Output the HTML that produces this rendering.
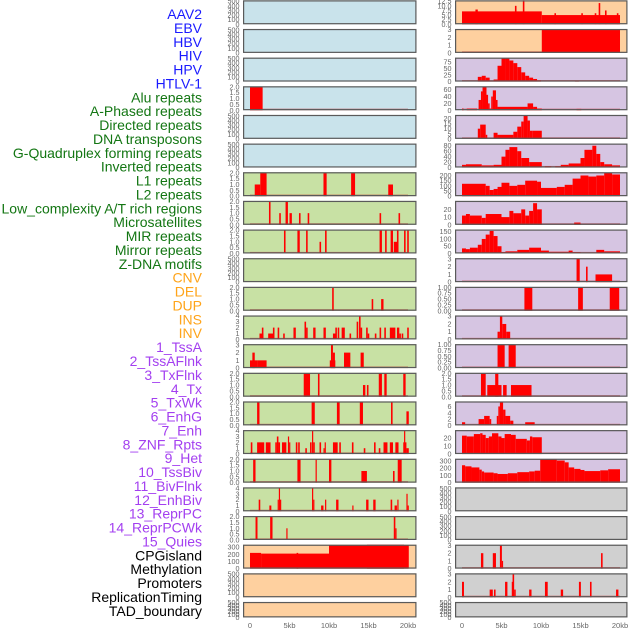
<!DOCTYPE html>
<html><head><meta charset="utf-8"><style>
html,body{margin:0;padding:0;background:#fff;width:630px;height:630px;overflow:hidden}
svg{display:block;font-family:"Liberation Sans",sans-serif}
</style></head><body>
<svg id="chart" width="630" height="630" viewBox="0 0 630 630"></svg>
<script>
// ---------- data ----------
const labels = ["AAV2","EBV","HBV","HIV","HPV","HTLV-1","Alu repeats","A-Phased repeats","Directed repeats","DNA transposons","G-Quadruplex forming repeats","Inverted repeats","L1 repeats","L2 repeats","Low_complexity A/T rich regions","Microsatellites","MIR repeats","Mirror repeats","Z-DNA motifs","CNV","DEL","DUP","INS","INV","1_TssA","2_TssAFlnk","3_TxFlnk","4_Tx","5_TxWk","6_EnhG","7_Enh","8_ZNF_Rpts","9_Het","10_TssBiv","11_BivFlnk","12_EnhBiv","13_ReprPC","14_ReprPCWk","15_Quies","CPGisland","Methylation","Promoters","ReplicationTiming","TAD_boundary"];
const labelGroups = ["v","v","v","v","v","v","r","r","r","r","r","r","r","r","r","r","r","r","r","c","c","c","c","c","h","h","h","h","h","h","h","h","h","h","h","h","h","h","h","o","o","o","o","o"];
const leftBg  = ["b","b","b","b","b","b","g","g","g","g","g","g","g","g","g","g","g","g","g","p","p","p"];
const rightBg = ["p","p","l","l","l","l","l","l","l","l","l","l","l","l","l","l","l","y","y","y","y","y"];
const T500=[0,100,200,300,400,500], T2=[0,0.5,1,1.5,2], T3=[0,1,2,3], T4=[0,1,2,3,4], T1=[0,0.25,0.5,0.75,1];
const leftTicks  = [T500,T500,T500,T2,T500,T500,T2,T2,T2,T500,T2,T4,T3,T2,T2,T4,T2,T4,T2,[0,100,200,300],T500,T500];
const leftMax    = [520,520,520,2.05,520,520,2.05,2.05,2.05,520,2.05,4.05,3.1,2.05,2.05,4.1,2.05,4.1,2.05,335,520,520];
const rightTicks = [[0,2.5,5,7.5,10,12.5],T3,[0,25,50,75],[0,20,40,60],[0,5,10,15,20],[0,20,40,60,80],[0,50,100,150,200],[0,10,20],[0,50,100,150],T3,T1,T3,T1,T2,[0,2,4,6],[0,10,20],[0,100,200,300],T500,T500,T3,T3,T500];
const rightMax   = [13,3.1,91,70,23.5,88,232,31,165,3.1,1.02,3.1,1.02,2.05,7.6,30,330,520,520,3.1,3.1,520];

const L_alu=[[0,1.6,2]];
const L_l1=[[0.6,1.3,1],[1.3,2.1,2],[9.3,9.7,2],[12.8,13.3,2],[17.5,18.1,1]];
const L_low=[[2.4,2.6,2],[3.7,3.9,1],[4.5,4.8,2],[5.0,5.3,1],[6.2,6.4,1],[7.3,7.5,1],[16.4,16.6,1],[18.8,19.0,1]];
const L_mir=[[4.3,4.5,2],[6.0,6.3,2],[7.1,7.3,2],[8.8,9.0,1],[9.5,9.7,2],[16.4,16.7,2],[17.1,17.3,2],[17.8,18.1,2],[18.2,18.7,1],[18.6,18.8,2],[19.5,19.7,2],[19.9,20.1,2]];
const L_del=[[10.4,10.6,2],[15.4,15.6,1],[16.6,16.9,1]];
const L_ins=[[1.2,1.7,1],[1.5,1.7,2],[2.3,3.0,1],[2.9,3.1,2],[3.5,3.7,2],[4.2,4.4,1],[5.5,5.8,2],[6.9,7.1,3],[7.1,7.3,2],[8.0,8.3,2],[9.3,9.6,2],[10.5,10.9,1],[10.8,11.0,2],[11.1,11.3,2],[11.6,12.0,2],[12.6,12.8,1],[13.5,13.7,3],[13.8,14.0,4],[14.0,14.2,2],[14.7,14.9,2],[14.9,15.1,1],[15.8,16.0,1],[16.4,16.6,2],[17.0,17.2,2],[17.7,18.4,2],[18.6,18.9,2],[18.9,19.1,1],[19.2,19.4,1],[19.9,20.1,2]];
const L_tss=[[0,1.0,1],[0.3,0.6,2],[1.0,2.1,1],[10.1,10.8,1],[10.25,10.5,3],[10.5,10.75,2],[11.9,12.7,2],[14.0,14.4,2]];
const L_txf=[[6.8,7.6,2],[8.6,8.8,2],[14.3,14.6,1],[14.8,15.0,1],[16.3,16.7,2],[17.0,17.3,2],[19.4,19.7,2]];
const L_txwk=[[0.9,1.2,2],[7.8,8.2,2],[11.0,11.35,2],[13.9,14.3,2],[17.85,18.05,2],[19.8,20.1,1.2]];
const L_enh=[[0.1,0.3,2],[0.9,1.8,2],[2.0,2.6,2],[3.2,3.4,2],[3.4,3.6,3],[3.6,3.8,2],[4.05,4.6,2],[4.8,4.95,3],[4.95,5.1,2],[5.8,6.0,2],[6.1,6.3,2],[7.0,7.2,1],[7.6,7.8,2],[7.85,8.0,4],[8.0,8.2,2],[8.8,9.0,2],[9.3,9.45,1],[9.45,9.6,2],[10.5,11.1,2],[11.3,11.5,2],[12.9,13.1,2],[14.4,14.6,1],[15.7,15.9,2],[16.3,16.5,1],[16.9,17.4,2],[17.7,18.1,2],[18.4,18.8,2],[19.4,19.5,2],[19.5,19.6,4],[19.6,19.8,2],[19.8,20.1,1]];
const L_het=[[0.4,0.7,2],[6.0,6.4,2],[8.3,8.45,2],[10.0,10.3,2],[14.1,14.8,1],[18.1,18.3,1],[18.7,19.2,2]];
const L_biv=[[1.1,1.3,2],[2.45,2.7,1],[3.5,3.65,2],[3.65,3.8,4],[3.8,3.9,2],[7.85,8.0,4],[8.0,8.1,2],[9.0,9.3,1],[9.5,9.65,2],[10.9,11.2,2],[12.95,13.1,1],[14.7,15.0,2],[15.6,15.9,2],[17.8,18.0,2],[18.3,18.6,1],[18.65,18.8,2],[19.8,19.95,3],[19.95,20.1,1]];
const L_repr=[[0.7,0.95,2],[2.55,2.85,2],[4.6,4.75,1],[18.2,18.4,2],[18.4,18.5,1]];
const L_cpg=[[0,1.4,220],[1.4,10.0,210],[5.9,6.1,220],[10.0,20.1,330],[14.8,19.5,335]];
const leftData=[[],[],[],L_alu,[],[],L_l1,L_low,L_mir,[],L_del,L_ins,L_tss,L_txf,L_txwk,L_enh,L_het,L_biv,L_repr,L_cpg,[],[]];

const R_aav=[[0,10.1,7],[1.7,2.0,8],[6.7,6.9,10],[7.7,7.9,13],[10.1,20,5],[11.7,11.9,6],[15.1,15.3,6],[16.8,17.0,6],[17.3,17.5,11.5],[18.1,18.3,7.5],[19.6,19.8,6]];
const R_hbv=[[0,10.1,0.08],[10.1,20,3]];
const R_hpv=[[2,2.5,18],[2.5,3,22],[3,3.5,15],[3.5,4,4],[4,4.5,8],[4.5,5,60],[5,5.5,88],[5.5,6,88],[6,6.5,80],[6.5,7,70],[7,7.5,55],[7.5,8,35],[8,8.5,22],[8.5,9,15],[9,9.5,10],[9.5,10,5],[14.3,14.8,4]];
const R_aph=[[0,0.2,5],[0.6,1.9,5],[2.1,2.4,30],[2.4,2.6,55],[2.6,3.1,68],[3.1,3.3,45],[3.3,3.5,20],[3.5,3.7,5],[3.7,3.9,40],[3.9,4.3,58],[4.3,4.5,30],[4.5,8.3,10],[8.3,9.0,20],[9.0,9.5,10],[9.5,10.1,5],[14.5,15.1,4]];
const R_dna=[[2,2.3,10],[2.3,3,14],[3,3.2,4],[4,4.5,6],[4.5,6.5,4],[6.5,7,7],[7,7.5,12],[7.5,7.8,17],[7.8,8.3,23],[8.3,8.6,18],[8.6,8.9,8],[8.9,10.1,8]];
const R_inv=[[0,0.5,10],[0.5,2.5,12],[2.5,4,8],[4,5,10],[5,5.5,40],[5.5,6,65],[6,7,75],[7,7.5,60],[7.5,8.5,35],[8.5,10.1,20],[10.5,11.3,5],[11.8,12.5,5],[12.5,13.5,10],[13.5,15,15],[15,15.5,35],[15.5,16.5,65],[16.5,17,80],[17,17.5,50],[17.5,18,20],[18,19,12],[19,20,8]];
const R_l2=[[0,3,120],[3,3.5,100],[3.5,4,60],[4,4.5,70],[4.5,5,90],[5,6,130],[6,7,100],[7,8,110],[8,9.5,150],[9.5,10,140],[10,12,80],[12,13,90],[13,14,110],[14,15,170],[15,16,200],[16,17,190],[17,18,200],[18,19,225],[19,20,210]];
const R_mic=[[0,0.5,12],[0.5,1,14],[1,2.5,12],[2.5,3,9],[3,5,14],[5,6,10],[6,6.5,18],[6.5,7.5,15],[7.5,8,20],[8,8.5,12],[8.5,9,18],[9,9.5,28],[9.5,10.1,20],[14.2,15,3]];
const R_mirr=[[0,0.5,35],[0.5,1,30],[1,2,40],[2,2.5,60],[2.5,3,100],[3,3.5,130],[3.5,4,155],[4,4.5,120],[4.5,5,50],[5,5.5,10],[5.5,7,15],[7,8.5,25],[8.5,10,40],[10,11,20],[11,13.5,12],[13.5,14,20],[14,15,10],[15,17,5],[17,18,25],[18,20,15]];
const R_cnv=[[14.5,14.9,3],[15.7,15.9,2],[16.9,19.0,1]];
const R_dup=[[7.9,8.9,1],[14.7,15.3,1],[18.7,19.9,1]];
const R_inv2=[[4.5,4.8,1],[4.8,5.1,3],[5.1,5.6,2],[5.6,6.1,1]];
const R_tssf=[[4.5,5.4,1],[5.9,6.8,1]];
const R_tx=[[2.4,3.0,2],[3.2,5.0,1],[4.2,4.6,2],[5.2,5.65,1],[6.2,8.8,1]];
const R_enhg=[[0,0.4,1],[2.1,2.8,2],[2.8,3.5,3],[3.5,3.7,2],[4.4,4.6,3],[4.6,4.8,6],[4.8,5.2,7.5],[5.2,5.5,5],[5.5,6.1,3],[6.1,6.5,1.5],[8.0,9.2,1]];
const R_znf=[[0,0.6,23],[0.6,1.5,22],[1.5,2.3,25],[2.3,2.6,26],[2.6,3.0,24],[3.0,3.4,20],[3.4,3.8,22],[3.8,4.6,26],[4.6,5.0,22],[5.0,5.4,20],[5.4,6.2,25],[6.2,6.8,24],[6.8,8.2,19],[8.2,8.6,17],[8.6,8.9,22],[8.9,10.1,21]];
const R_tssb=[[0,0.4,240],[0.4,1.2,225],[1.2,2.2,210],[2.2,2.5,180],[2.5,2.8,155],[2.8,4.0,140],[4.0,4.5,130],[4.5,5.8,120],[5.8,7.0,130],[7.0,8.5,145],[8.5,9.2,155],[9.2,9.9,165],[9.9,12.0,320],[12.0,13.0,305],[13.0,13.5,280],[13.5,14.2,210],[14.2,15,190],[15,15.5,175],[15.5,17.5,160],[17.5,18.5,170],[18.5,20,185]];
const R_meth=[[2.4,2.7,2],[3.9,4.3,2],[4.8,5.05,3],[5.05,5.2,1],[17.6,17.8,2]];
const R_prom=[[0,0.25,2],[3.5,3.9,1],[4.05,4.25,1],[5.45,5.75,2],[6.3,6.4,2],[6.4,6.6,3],[6.6,6.8,1],[8.5,8.8,1],[10.5,10.85,2],[12.5,12.8,1],[14.8,15.05,2],[16.2,16.4,2],[19.5,19.8,1]];
const rightData=[R_aav,R_hbv,R_hpv,R_aph,R_dna,R_inv,R_l2,R_mic,R_mirr,R_cnv,R_dup,R_inv2,R_tssf,R_tx,R_enhg,R_znf,R_tssb,[],[],R_meth,R_prom,[]];
const xTicks=[0,5,10,15,20];
const xTickLabels=["0","5kb","10kb","15kb","20kb"];

// ---------- drawing ----------
const NS="http://www.w3.org/2000/svg";
const svg=document.getElementById("chart");
const groupColor={v:"#1a1aff",r:"#137613",c:"#ffa41a",h:"#a33ff0",o:"#000"};
const bgColor={b:"#c9e3eb",g:"#c8e1a4",p:"#fed09f",l:"#d6c5e2",y:"#d0d0d0"};
function mk(tag,attrs){const e=document.createElementNS(NS,tag);for(const k in attrs)e.setAttribute(k,attrs[k]);return e;}
const xL=kb=>250+kb*7.9, xR=kb=>462+kb*7.9;
const rowTop=i=>0.3+28.65*i;
const rowH=i=>i===21?15.5:24;
function fmt(v,ticks){const dec=ticks.some(t=>t%1!==0);if(!dec)return String(v);const hasQ=ticks.some(t=>Math.round(t*100)%50!==0);return v.toFixed(hasQ?2:1);}

labels.forEach((txt,j)=>{
  const t=mk("text",{x:202,y:19+j*13.88,"text-anchor":"end","font-size":"14",fill:groupColor[labelGroups[j]]});
  
  
  t.textContent=txt;svg.appendChild(t);
});

function panel(side,i){
  const isL=side==="L";
  const x0=isL?243:455, x1=isL?416.5:627.5;
  const xf=isL?xL:xR;
  const top=rowTop(i), h=rowH(i), bot=top+h;
  const mx=isL?leftMax[i]:rightMax[i];
  const ticks=isL?leftTicks[i]:rightTicks[i];
  const data=isL?leftData[i]:rightData[i];
  const yf=v=>bot-v/mx*h;
  const g=mk("g",{});
  
  
  g.appendChild(mk("rect",{x:x0,y:top,width:x1-x0,height:h,fill:bgColor[(isL?leftBg:rightBg)[i]]}));
  if(data.length){
    const bl=mk("rect",{x:xf(0),y:bot-1.6,width:xf(20)-xf(0),height:1.6,fill:"rgba(190,30,30,0.55)"});
    
    
    g.appendChild(bl);
  }
  data.forEach(d=>{
    const y=Math.max(top,yf(d[2]));
    const r=mk("rect",{x:xf(d[0]),y:y,width:Math.max(1.2,xf(d[1])-xf(d[0])),height:bot-y,fill:"#ff0000"});
    
    
    g.appendChild(r);
  });
  g.appendChild(mk("rect",{x:x0+0.6,y:top+0.6,width:x1-x0-1.2,height:h-1.2,fill:"none",stroke:"#5a5a5a","stroke-width":"1.2"}));
  ticks.forEach(tv=>{
    const t=mk("text",{x:x0-3.5,y:yf(tv)+2.5,"text-anchor":"end","font-size":"7.2",fill:"#666"});
    
    
    t.textContent=fmt(tv,ticks);g.appendChild(t);
  });
  svg.appendChild(g);
}
for(let i=0;i<22;i++){panel("L",i);panel("R",i);}

["L","R"].forEach(side=>{
  const xf=side==="L"?xL:xR;
  xTicks.forEach((kb,k)=>{
    const t=mk("text",{x:xf(kb),y:628,"text-anchor":"middle","font-size":"7.5",fill:"#666"});
    
    
    t.textContent=xTickLabels[k];svg.appendChild(t);
  });
});
</script>
</body></html>
